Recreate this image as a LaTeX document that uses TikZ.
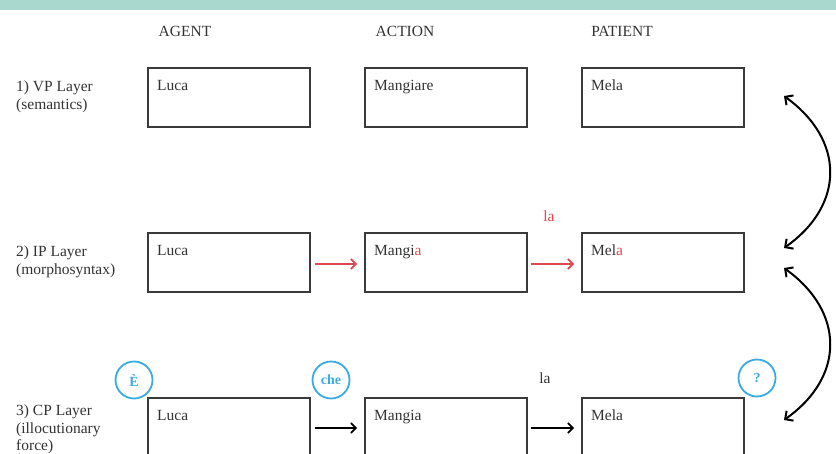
\documentclass[tikz,border=0pt]{standalone}
\usepackage{fontspec}
\setmainfont{Liberation Serif}
\usetikzlibrary{arrows.meta}
\definecolor{barteal}{HTML}{A8D8CE}
\definecolor{markred}{HTML}{E0474C}
\definecolor{ringblue}{HTML}{3AACE0}
\definecolor{boxgray}{HTML}{3A3A3A}
\begin{document}
\begin{tikzpicture}[x=1pt,y=-1pt,
  slot/.style={draw=boxgray,line width=1.7pt,minimum width=162pt,minimum height=59pt,
    anchor=north west,inner sep=0pt},
  word/.style={anchor=north west,inner sep=0pt,font=\fontsize{15.5}{18}\selectfont,text=black!80},
  head/.style={font=\fontsize{15.5}{18}\selectfont,text=black!80},
  layer/.style={anchor=north west,inner sep=0pt,align=left,font=\fontsize{15.5}{17.5}\selectfont,text=black!80},
  link/.style={-{Straight Barb[length=5pt,width=10pt]},line width=1.6pt},
  ring/.style={draw=ringblue,circle,line width=1.8pt,minimum size=37pt,inner sep=0pt,
    text=ringblue,font=\fontsize{14}{16}\selectfont\bfseries},
  swap/.style={{Straight Barb[length=6pt,width=12pt]}-{Straight Barb[length=6pt,width=12pt]},line width=2pt}]
\useasboundingbox (0,0) rectangle (836,454);
\clip (0,0) rectangle (836,454);
\fill[barteal] (0,0) rectangle (836,10);

% column headings
\node[head] (hagent) at (185,31) {AGENT};
\node[head] (haction) at (405,31) {ACTION};
\node[head] (hpatient) at (622,31) {PATIENT};

% layer labels
\node[layer] (l1) at (16,81) {1) VP Layer\\(semantics)};
\node[layer] (l2) at (16,246) {2) IP Layer\\(morphosyntax)};
\node[layer] (l3) at (16,405) {3) CP Layer\\(illocutionary\\force)};

% VP layer
\node[slot] (a1) at (147,67) {};
\node[slot] (b1) at (364,67) {};
\node[slot] (c1) at (581,67) {};
\node[word] at ([shift={(10,13)}]a1.north west) {Luca};
\node[word] at ([shift={(10,13)}]b1.north west) {Mangiare};
\node[word] at ([shift={(10,13)}]c1.north west) {Mela};

% IP layer
\node[slot] (a2) at (147,232) {};
\node[slot] (b2) at (364,232) {};
\node[slot] (c2) at (581,232) {};
\node[word] at ([shift={(10,13)}]a2.north west) {Luca};
\node[word] at ([shift={(10,13)}]b2.north west) {Mangi\textcolor{markred}{a}};
\node[word] at ([shift={(10,13)}]c2.north west) {Mel\textcolor{markred}{a}};
\coordinate (a2o) at ([yshift=-32]a2.north east);
\coordinate (b2o) at ([yshift=-32]b2.north east);
\draw[link,markred] ([xshift=4]a2o) -- ([xshift=-7]b2.north west |- a2o);
\draw[link,markred] ([xshift=3]b2o) -- ([xshift=-7]c2.north west |- b2o);
\node[head,text=markred] (la2) at (549,216) {la};

% CP layer
\node[slot,minimum height=80pt] (a3) at (147,397) {};
\node[slot,minimum height=80pt] (b3) at (364,397) {};
\node[slot,minimum height=80pt] (c3) at (581,397) {};
\node[word] at ([shift={(10,13)}]a3.north west) {Luca};
\node[word] at ([shift={(10,13)}]b3.north west) {Mangia};
\node[word] at ([shift={(10,13)}]c3.north west) {Mela};
\coordinate (a3o) at ([yshift=-31]a3.north east);
\coordinate (b3o) at ([yshift=-31]b3.north east);
\draw[link] ([xshift=4]a3o) -- ([xshift=-7]b3.north west |- a3o);
\draw[link] ([xshift=3]b3o) -- ([xshift=-7]c3.north west |- b3o);
\node[head] (la3) at (545,378) {la};
\node[ring] (rE) at (134,380) {È};
\node[ring] (rche) at (331,380) {che};
\node[ring] (rq) at (757,378) {?};

% movement between layers
\coordinate (p1) at (784,96);
\coordinate (p2) at (784,248);
\coordinate (p3) at (784,268);
\coordinate (p4) at (784,420);
\draw[swap] (p1) .. controls (845,140) and (845,205) .. (p2);
\draw[swap] (p3) .. controls (845,312) and (845,377) .. (p4);
\end{tikzpicture}
\end{document}
